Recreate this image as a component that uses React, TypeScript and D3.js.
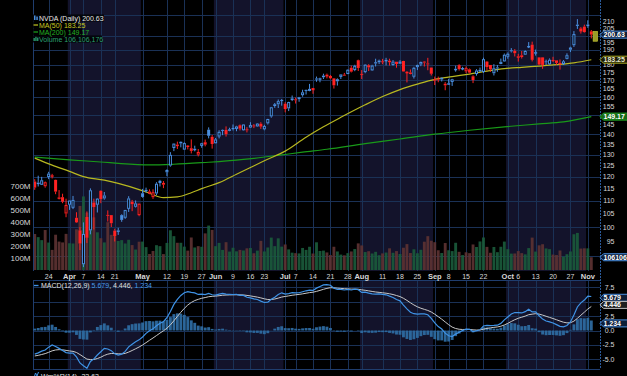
import React from 'react';
import * as d3 from 'd3';

// ---------- calendar ----------
const firstDay = '2025-03-18';
const lastDay = '2025-11-04';
const holidays = ['2025-04-18', '2025-05-26', '2025-06-19', '2025-07-04', '2025-09-01'];

// ---------- daily OHLC (NVDA) ----------
const opens = [
  118.0, 117.3, 116.6, 116.0, 119.9, 120.6, 118.7, 111.4, 111.5, 105.1,
  108.5, 107.3, 103.5, 98.9, 87.5, 103.8, 98.9, 109.4, 108.5, 114.1, 111.0, 104.6, 104.5, 98.8, 98.8, 104.5, 103.5, 106.9, 109.7, 107.7, 104.5,
  113.1, 114.2, 112.9, 111.5, 113.0, 118.3, 117.4, 122.0, 125.0, 133.2, 134.3, 136.2, 132.4, 134.3, 133.1, 132.2, 130.0, 134.2, 136.0, 142.3, 138.7,
  135.5, 138.8, 142.2, 142.2, 142.5, 143.2, 142.7, 144.6, 142.0, 142.5, 143.4, 144.5, 144.0, 145.4, 142.5, 145.6, 149.3, 156.0, 156.0, 158.4,
  156.3, 153.7, 158.4, 158.8, 158.9, 161.2, 164.3, 163.7, 165.4, 171.2, 171.1, 172.0, 173.6, 172.8, 171.3, 169.5, 172.2, 173.6, 174.0, 178.0, 176.5, 182.9,
  174.1, 175.2, 179.6, 176.3, 181.6, 181.6, 182.2, 183.0, 182.6, 179.8, 181.9, 180.6, 182.4, 175.0, 174.8, 172.3, 178.4, 180.1, 182.0, 180.8, 178.1,
  170.0, 171.1, 170.6, 168.0, 167.6, 169.1, 176.6, 179.7, 177.8, 175.7, 177.0, 172.6, 174.0, 175.8, 175.3, 182.0, 179.8, 174.5, 178.2, 180.4, 182.1,
  185.2, 189.6, 189.2, 185.5, 186.2, 186.6, 192.2, 193.5, 188.0, 184.8, 184.8, 182.2, 180.2, 183.1, 182.8, 181.1, 180.4, 183.8, 190.0, 193.1, 208.0, 205.2, 206.5,
  208.1, 203.0,
];
const highs = [
  119.0, 120.5, 120.0, 118.0, 122.2, 121.3, 118.8, 114.4, 112.9, 110.9,
  110.2, 112.0, 105.6, 100.1, 101.8, 105.9, 115.1, 110.9, 111.1, 114.3, 113.6, 106.3, 104.5, 99.5, 99.8, 104.8, 106.5, 111.9, 110.4, 110.2, 109.0,
  114.9, 115.4, 114.7, 114.7, 117.7, 118.7, 118.2, 123.3, 131.2, 135.4, 136.3, 136.4, 135.9, 134.6, 137.4, 134.3, 132.7, 135.7, 137.3, 143.5, 139.6,
  138.1, 142.0, 142.4, 144.0, 143.3, 145.0, 144.3, 145.0, 145.1, 143.6, 146.2, 145.2, 145.7, 146.2, 144.8, 148.0, 154.5, 156.7, 158.7, 159.0,
  157.2, 157.4, 161.0, 159.8, 160.2, 164.4, 164.5, 167.9, 165.5, 172.4, 171.7, 174.2, 174.3, 173.4, 171.4, 171.3, 173.8, 174.7, 177.0, 179.4, 179.9, 183.3,
  176.5, 180.3, 180.3, 179.9, 183.9, 183.3, 183.8, 184.5, 183.9, 183.0, 181.9, 182.9, 182.5, 175.9, 176.9, 178.6, 180.0, 182.0, 182.3, 184.5, 178.2,
  172.4, 172.4, 171.9, 169.0, 171.0, 171.0, 179.3, 180.3, 178.6, 178.8, 177.5, 173.2, 177.1, 178.1, 184.6, 182.4, 179.8, 180.3, 179.8, 184.0, 187.4,
  188.1, 191.1, 190.4, 187.2, 189.1, 189.6, 195.3, 195.6, 190.1, 184.8, 184.9, 183.3, 184.1, 185.2, 182.8, 183.4, 183.0, 187.5, 192.0, 203.2, 212.2, 206.2, 208.0,
  211.3, 204.0,
];
const lows = [
  114.5, 115.9, 116.5, 115.4, 119.0, 119.3, 112.7, 110.6, 109.1, 103.7,
  106.5, 106.8, 101.6, 92.1, 86.6, 94.5, 97.5, 99.2, 105.5, 109.1, 110.5, 102.1, 100.1, 95.0, 97.3, 102.0, 103.1, 105.7, 106.0, 107.4, 104.1,
  111.3, 113.4, 112.7, 110.8, 112.3, 115.9, 115.2, 120.3, 124.5, 131.7, 132.7, 133.5, 132.4, 132.5, 130.6, 131.6, 129.2, 133.3, 134.0, 137.9, 132.9,
  135.4, 137.9, 139.5, 138.8, 141.5, 141.9, 141.5, 141.9, 141.8, 140.9, 143.2, 143.1, 143.8, 142.7, 142.0, 145.0, 148.6, 154.0, 153.9, 155.2,
  151.5, 152.2, 157.8, 156.4, 157.4, 160.3, 161.6, 163.5, 162.0, 169.2, 168.9, 170.9, 171.3, 171.0, 165.1, 166.9, 170.9, 172.9, 173.9, 175.0, 175.8, 175.9,
  170.9, 174.5, 175.9, 176.0, 178.8, 180.4, 180.3, 179.5, 179.4, 179.3, 178.0, 180.6, 175.5, 168.8, 173.8, 171.2, 176.5, 179.0, 178.8, 176.4, 173.1,
  167.2, 168.9, 169.4, 164.1, 167.3, 166.7, 175.5, 176.2, 176.4, 174.5, 174.4, 168.4, 173.0, 175.2, 174.7, 176.2, 175.4, 173.1, 175.4, 180.3, 181.9,
  183.9, 188.1, 185.4, 182.0, 184.0, 186.5, 191.1, 182.1, 186.0, 179.7, 177.3, 179.8, 179.8, 181.7, 179.8, 176.8, 179.8, 183.5, 188.4, 191.9, 204.8, 201.4, 202.1,
  205.6, 197.9,
];
const closes = [
  115.43, 117.52, 118.53, 117.70, 121.41, 120.69, 113.76, 111.43, 109.67, 108.38,
  110.15, 110.42, 101.80, 94.31, 97.64, 96.30, 114.33, 107.57, 110.93, 110.71, 112.20, 104.49, 101.49, 96.91, 98.89, 102.71, 106.43, 111.01, 108.73, 109.02, 108.92,
  111.61, 114.50, 113.82, 113.54, 117.06, 117.37, 116.65, 123.00, 129.93, 135.34, 134.83, 135.40, 135.57, 134.38, 131.80, 132.83, 131.29, 135.50, 134.81, 139.19, 135.13,
  137.38, 141.22, 141.92, 139.99, 141.72, 142.63, 143.96, 142.83, 145.00, 141.97, 144.69, 144.12, 145.48, 143.85, 144.17, 147.90, 154.31, 155.02, 157.75, 157.99,
  153.30, 157.25, 159.34, 158.24, 160.00, 162.88, 164.10, 164.92, 164.07, 170.70, 171.37, 173.00, 172.41, 171.38, 167.03, 170.78, 173.74, 173.50, 176.75, 175.51, 179.27, 177.87,
  173.72, 180.00, 178.26, 179.42, 180.77, 182.70, 182.06, 183.16, 181.59, 182.02, 180.45, 182.01, 175.64, 175.40, 174.98, 177.99, 179.81, 181.77, 181.60, 180.17, 174.18,
  170.78, 170.62, 171.66, 167.02, 168.31, 170.76, 177.33, 177.17, 177.82, 177.75, 174.88, 170.29, 176.24, 176.67, 183.61, 178.43, 176.97, 177.69, 178.19, 181.85, 186.58,
  187.24, 188.89, 187.62, 185.54, 185.04, 189.11, 192.57, 183.16, 188.32, 180.03, 179.83, 181.81, 183.22, 182.64, 181.16, 180.28, 182.16, 186.26, 191.49, 201.03, 207.04, 202.89, 202.49,
  206.88, 200.63,
];
// volume in millions of shares
const volumes = [
  299, 273, 248, 332, 228, 167, 293, 236, 229, 300,
  222, 220, 338, 532, 611, 476, 612, 437, 313, 264, 229, 397, 292, 288, 241, 248, 220, 251, 207, 170, 235,
  236, 190, 133, 158, 206, 198, 132, 225, 330, 281, 226, 226, 194, 161, 270, 187, 198, 193, 304, 369, 333,
  198, 225, 167, 231, 153, 185, 155, 167, 162, 180, 183, 139, 161, 242, 154, 187, 269, 198, 263, 194,
  212, 171, 144, 140, 138, 183, 167, 193, 137, 230, 158, 161, 146, 124, 193, 154, 128, 122, 140, 154, 174, 221,
  204, 149, 156, 137, 151, 123, 138, 145, 180, 143, 157, 133, 185, 215, 141, 172, 139, 168, 235, 281, 243,
  231, 164, 141, 224, 164, 157, 226, 151, 124, 147, 140, 212, 191, 237, 270, 192, 143, 191, 148, 193, 236,
  173, 136, 137, 157, 140, 130, 182, 269, 153, 205, 214, 179, 173, 128, 124, 162, 111, 131, 154, 297, 308, 178, 180,
  180, 106,
];

// ---------- moving averages ----------
const ma50Samples: [string, number][] = [
  ['2025-03-18', 128.4], ['2025-03-25', 125.2], ['2025-04-01', 122.4], ['2025-04-07', 120.1], ['2025-04-15', 118.6],
  ['2025-04-22', 117.2], ['2025-04-30', 114.6], ['2025-05-05', 113.1], ['2025-05-09', 111.3], ['2025-05-15', 111.6],
  ['2025-05-21', 113.3], ['2025-05-27', 115.0], ['2025-06-03', 117.5], ['2025-06-10', 121.1], ['2025-06-16', 124.1],
  ['2025-06-23', 127.2], ['2025-07-01', 131.7], ['2025-07-10', 138.5], ['2025-07-17', 143.8], ['2025-07-24', 148.8],
  ['2025-08-04', 155.7], ['2025-08-11', 160.4], ['2025-08-18', 164.5], ['2025-08-25', 167.8], ['2025-09-02', 170.7],
  ['2025-09-09', 172.4], ['2025-09-16', 174.0], ['2025-09-23', 175.8], ['2025-09-30', 177.4], ['2025-10-07', 178.3],
  ['2025-10-14', 179.1], ['2025-10-21', 180.0], ['2025-10-28', 181.2], ['2025-11-04', 183.25],
];
const ma200Samples: [string, number][] = [
  ['2025-03-18', 128.9], ['2025-04-01', 127.6], ['2025-04-15', 126.5], ['2025-04-22', 126.0], ['2025-05-05', 125.3],
  ['2025-05-14', 125.6], ['2025-05-29', 126.5], ['2025-06-03', 126.8], ['2025-06-12', 127.8], ['2025-06-27', 129.7],
  ['2025-07-09', 131.2], ['2025-07-18', 132.6], ['2025-08-04', 135.3], ['2025-08-18', 137.6], ['2025-09-02', 140.0],
  ['2025-09-16', 142.0], ['2025-09-30', 143.8], ['2025-10-14', 145.3], ['2025-10-23', 146.4], ['2025-11-04', 149.17],
];

// MACD(12,26,9) EMA states on the session before the first bar
const ema12Seed = 119.2;
const ema26Seed = 123.3;
const signalSeed = -4.5;

// ---------- axis ticks / labels ----------
const dateTicks: [string, string, boolean][] = [
  ['2025-03-24', '24', false], ['2025-04-01', 'Apr', true], ['2025-04-07', '7', false], ['2025-04-14', '14', false],
  ['2025-04-21', '21', false], ['2025-05-01', 'May', true], ['2025-05-12', '12', false], ['2025-05-19', '19', false],
  ['2025-05-27', '27', false], ['2025-06-02', 'Jun', true], ['2025-06-09', '9', false], ['2025-06-16', '16', false],
  ['2025-06-23', '23', false], ['2025-07-01', 'Jul', true], ['2025-07-07', '7', false], ['2025-07-14', '14', false],
  ['2025-07-21', '21', false], ['2025-07-28', '28', false], ['2025-08-01', 'Aug', true], ['2025-08-11', '11', false],
  ['2025-08-18', '18', false], ['2025-08-25', '25', false], ['2025-09-02', 'Sep', true], ['2025-09-08', '8', false],
  ['2025-09-15', '15', false], ['2025-09-22', '22', false], ['2025-10-01', 'Oct', true], ['2025-10-06', '6', false],
  ['2025-10-13', '13', false], ['2025-10-20', '20', false], ['2025-10-27', '27', false], ['2025-11-03', 'Nov', true],
];
const priceTickLabels = [95, 100, 105, 110, 115, 120, 125, 130, 135, 140, 145, 150, 155, 160, 165, 170, 175, 180, 190, 195, 205, 210];
const priceGrid = [90, 100, 110, 120, 130, 140, 150, 160, 170, 180, 190, 200, 215];
const volumeTicks = [100, 200, 300, 400, 500, 600, 700];
const macdTickLabels = [7.5, 2.5, 0, -2.5, -5];
const macdGrid = [7.5, 5, 2.5, 0, -2.5, -5];

const legendText = {
  ticker: 'NVDA (Daily) 200.63',
  ma50: 'MA(50) 183.25',
  ma200: 'MA(200) 149.17',
  volume: 'Volume 106,106,176',
  macdName: 'MACD(12,26,9)',
  macdVals: ['5.679', '4.446', '1.234'],
  wmr: 'Wm%R(14) -22.63',
};
const lastVolumeText = '106106176';

// ---------- styling ----------
const FONT = "'Liberation Sans', Arial, sans-serif";
const C = {
  bg: '#000000',
  shade: '#13132b',
  grid: '#1a3156',
  frame: '#1f3d6e',
  up: '#4a8fe0',
  down: '#ff2222',
  volUp: '#1a5a3b',
  volDown: '#5c3232',
  ma50: '#b8b820',
  ma200: '#199a19',
  text: '#d8d8d8',
  macd: '#3f93e6',
  signal: '#c8c8c8',
  hist: '#2d6aa0',
};

function tradingDays(): string[] {
  const fmt = d3.utcFormat('%Y-%m-%d');
  const start = new Date(firstDay + 'T00:00:00Z');
  const end = d3.utcDay.offset(new Date(lastDay + 'T00:00:00Z'), 1);
  return d3.utcDay
    .range(start, end)
    .filter((d) => d.getUTCDay() !== 0 && d.getUTCDay() !== 6)
    .map(fmt)
    .filter((s) => !holidays.includes(s));
}

function Box({ y, text, stroke, fill, color }: { y: number; text: string; stroke: string; fill: string; color: string }) {
  const h = 7;
  const pts = [
    [600, y], [603.5, y - h / 2], [630, y - h / 2], [630, y + h / 2], [603.5, y + h / 2],
  ].map((p) => p.join(',')).join(' ');
  return (
    <g>
      <polygon points={pts} fill={fill} stroke={stroke} strokeWidth={1} />
      <text x={603.5} y={y + 2.5} fontSize={7} fontWeight="bold" fill={color} fontFamily={FONT}>{text}</text>
    </g>
  );
}

export default function App() {
  const days = tradingDays().slice(0, closes.length);
  const n = days.length;
  const idxOf = new Map(days.map((d, i) => [d, i] as [string, number]));
  const L = 33, R = 600;
  const mainB = 271, macdT = 280, macdB = 369;

  const x = d3.scaleLinear().domain([-0.5, n + 1.5]).range([L, R]);
  const step = x(1) - x(0);
  const yP = d3.scaleLog().domain([100, 200]).range([227.3, 35.5]);
  const yV = d3.scaleLinear().domain([0, 700]).range([270, 185.7]);
  const yM = d3.scaleLinear().domain([-5, 7.5]).range([359.3, 287.3]);

  // MACD
  let e12 = ema12Seed, e26 = ema26Seed, sig = signalSeed;
  const macd = closes.map((c) => {
    e12 += (c - e12) * (2 / 13);
    e26 += (c - e26) * (2 / 27);
    const m = e12 - e26;
    sig += (m - sig) * (2 / 10);
    return { m, s: sig, h: m - sig };
  });

  // month shading bands
  const months = d3.groups(days.map((d, i) => ({ d, i })), (o) => o.d.slice(0, 7));
  const bands = months.map(([key, arr], k) => {
    const first = arr[0].i, last = arr[arr.length - 1].i;
    const x0 = k === 0 ? L : x(first) - step / 2;
    const x1 = k === months.length - 1 ? R : x(last) + step / 2;
    const shaded = +key.slice(5, 7) % 2 === 0;
    return { key, x0, x1, shaded };
  });

  const tickX = dateTicks.map(([d, t, b]) => ({ x: x(idxOf.get(d)!), t, b }));

  const maLine = d3.line<[string, number]>()
    .x((d) => x(idxOf.get(d[0])!))
    .y((d) => yP(d[1]))
    .curve(d3.curveMonotoneX);

  const macdLine = d3.line<number>().x((_, i) => x(i)).y((v) => yM(v));

  const bodyW = 3;
  const last = n - 1;

  return (
    <svg width={627} height={376} style={{ position: 'absolute', left: 0, top: 0, background: '#000' }}>
      <defs>
        <clipPath id="mainClip"><rect x={L} y={0} width={R - L} height={mainB} /></clipPath>
        <clipPath id="macdClip"><rect x={L} y={macdT} width={R - L} height={macdB - macdT} /></clipPath>
      </defs>
      <rect width={627} height={376} fill={C.bg} />

      {/* shading */}
      {bands.filter((b) => b.shaded).map((b) => (
        <g key={b.key}>
          <rect x={b.x0} y={0} width={b.x1 - b.x0} height={mainB} fill={C.shade} />
          <rect x={b.x0} y={macdT} width={b.x1 - b.x0} height={macdB - macdT} fill={C.shade} />
        </g>
      ))}

      {/* grid */}
      <g stroke={C.grid} strokeWidth={1}>
        {priceGrid.map((p) => (
          <line key={'pg' + p} x1={L} x2={R} y1={Math.round(yP(p)) + 0.5} y2={Math.round(yP(p)) + 0.5} />
        ))}
        {macdGrid.map((v) => (
          <line key={'mg' + v} x1={L} x2={R} y1={Math.round(yM(v)) + 0.5} y2={Math.round(yM(v)) + 0.5} />
        ))}
        {tickX.map((t, i) => (
          <g key={'vg' + i}>
            <line x1={Math.round(t.x) + 0.5} x2={Math.round(t.x) + 0.5} y1={0} y2={mainB} />
            <line x1={Math.round(t.x) + 0.5} x2={Math.round(t.x) + 0.5} y1={macdT} y2={macdB} />
          </g>
        ))}
      </g>

      {/* volume */}
      <g clipPath="url(#mainClip)">
        {volumes.map((v, i) => {
          const up = i === 0 ? closes[i] >= opens[i] : closes[i] >= closes[i - 1];
          return (
            <rect key={'v' + i} x={x(i) - step / 2 + 0.3} y={yV(v)} width={step - 0.6} height={yV(0) - yV(v)}
              fill={up ? C.volUp : C.volDown} opacity={0.92} />
          );
        })}
      </g>

      {/* moving averages */}
      <g clipPath="url(#mainClip)" fill="none">
        <path d={maLine(ma200Samples) || ''} stroke={C.ma200} strokeWidth={1.2} />
        <path d={maLine(ma50Samples) || ''} stroke={C.ma50} strokeWidth={1.2} />
      </g>

      {/* candles */}
      <g clipPath="url(#mainClip)">
        {closes.map((c, i) => {
          const o = opens[i], h = highs[i], l = lows[i];
          const prev = i === 0 ? o : closes[i - 1];
          const col = c >= prev ? C.up : C.down;
          const hollow = c >= o;
          const cx = x(i);
          const top = yP(Math.max(o, c)), bot = yP(Math.min(o, c));
          const bh = Math.max(1, bot - top);
          return (
            <g key={'c' + i}>
              <line x1={cx} x2={cx} y1={yP(h)} y2={top} stroke={col} strokeWidth={1} />
              <line x1={cx} x2={cx} y1={top + bh} y2={yP(l)} stroke={col} strokeWidth={1} />
              {hollow ? (
                <rect x={cx - bodyW / 2 + 0.5} y={top + 0.5} width={bodyW - 1} height={Math.max(0.5, bh - 1)} fill="#000" stroke={col} strokeWidth={1} />
              ) : (
                <rect x={cx - bodyW / 2} y={top} width={bodyW} height={bh} fill={col} />
              )}
            </g>
          );
        })}
        <rect x={x(last) + 1.8} y={yP(highs[last] - 1)} width={4.5} height={yP(lows[last] - 2) - yP(highs[last] - 1)}
          fill="#9a9a28" stroke="#c8c830" strokeWidth={0.6} />
      </g>

      {/* frame */}
      <line x1={L + 0.5} x2={L + 0.5} y1={0} y2={mainB} stroke={C.frame} />
      <line x1={L + 0.5} x2={L + 0.5} y1={macdT} y2={macdB} stroke={C.frame} />
      <line x1={R + 0.5} x2={R + 0.5} y1={0} y2={macdB} stroke="#2a5a9a" strokeDasharray="2,1" />
      <line x1={L} x2={R} y1={macdT + 0.5} y2={macdT + 0.5} stroke={C.frame} />
      <line x1={L} x2={R} y1={macdB + 0.5} y2={macdB + 0.5} stroke={C.frame} />

      {/* legend */}
      <g fontFamily={FONT} fontSize={7}>
        <rect x={32} y={14.5} width={72} height={7} fill="#000" opacity={0.85} />
        <rect x={32} y={21.5} width={46} height={7} fill="#000" opacity={0.85} />
        <rect x={32} y={28.5} width={50} height={7} fill="#000" opacity={0.85} />
        <rect x={32} y={35.5} width={70} height={7} fill="#000" opacity={0.85} />
        <rect x={34} y={15.5} width={1.5} height={4.5} fill={C.up} />
        <rect x={36.3} y={16.5} width={1.5} height={3.5} fill={C.up} />
        <text x={39} y={20.6} fill="#e8e8e8">{legendText.ticker}</text>
        <line x1={33.5} x2={38} y1={25} y2={25} stroke={C.ma50} strokeWidth={1.3} />
        <text x={39} y={27.6} fill="#c8c820">{legendText.ma50}</text>
        <line x1={33.5} x2={38} y1={32} y2={32} stroke={C.ma200} strokeWidth={1.3} />
        <text x={39} y={34.6} fill="#22b022">{legendText.ma200}</text>
        <rect x={33.5} y={38} width={1.3} height={3} fill="#2aa070" />
        <rect x={35.3} y={36.8} width={1.3} height={4.2} fill="#2aa070" />
        <rect x={37.1} y={37.6} width={1.3} height={3.4} fill="#2aa070" />
        <text x={39} y={41.6} fill="#2aa070">{legendText.volume}</text>
      </g>

      {/* price axis labels */}
      <g fontFamily={FONT} fontSize={7} fill={C.text} textAnchor="end">
        {priceTickLabels.map((p) => (
          <text key={'pl' + p} x={614.5} y={yP(p) + 2.5}>{p}</text>
        ))}
      </g>
      {/* volume axis labels */}
      <g fontFamily={FONT} fontSize={8} fill={C.text} textAnchor="end">
        {volumeTicks.map((v) => (
          <text key={'vl' + v} x={30.5} y={yV(v) + 3}>{v + 'M'}</text>
        ))}
      </g>

      {/* value boxes */}
      <Box y={yP(closes[last])} text={closes[last].toFixed(2)} stroke="#4a8fe0" fill="#0e1d36" color="#ffffff" />
      <Box y={yP(ma50Samples[ma50Samples.length - 1][1])} text={ma50Samples[ma50Samples.length - 1][1].toFixed(2)} stroke="#a8a820" fill="#1a1a08" color="#e8e8c8" />
      <Box y={yP(ma200Samples[ma200Samples.length - 1][1])} text={ma200Samples[ma200Samples.length - 1][1].toFixed(2)} stroke="#22a022" fill="#176a17" color="#ffffff" />
      <Box y={yV(volumes[last])} text={lastVolumeText} stroke="#4a8fe0" fill="#0e1d36" color="#ffffff" />

      {/* date labels */}
      <g fontFamily={FONT} fontSize={7} fill={C.text} textAnchor="middle">
        {tickX.map((t, i) => (
          <text key={'dl' + i} x={t.x} y={278.5} fontWeight={t.b ? 'bold' : 'normal'} fontSize={t.b ? 7.5 : 7}>{t.t}</text>
        ))}
      </g>

      {/* MACD */}
      <g clipPath="url(#macdClip)">
        {macd.map((d, i) => (
          <rect key={'h' + i} x={x(i) - step / 2 + 0.3} width={step - 0.6}
            y={Math.min(yM(0), yM(d.h))} height={Math.abs(yM(d.h) - yM(0))} fill={C.hist} opacity={0.95} />
        ))}
        <path d={macdLine(macd.map((d) => d.s)) || ''} fill="none" stroke={C.signal} strokeWidth={1} />
        <path d={macdLine(macd.map((d) => d.m)) || ''} fill="none" stroke={C.macd} strokeWidth={1.2} />
      </g>
      <g fontFamily={FONT} fontSize={7}>
        <line x1={34} x2={38.5} y1={285.5} y2={285.5} stroke={C.macd} strokeWidth={1.3} />
        <text x={41} y={288}>
          <tspan fill="#e0e0e0">{legendText.macdName} </tspan>
          <tspan fill="#4a9be8">{legendText.macdVals[0]}</tspan>
          <tspan fill="#e0e0e0">, {legendText.macdVals[1]}, </tspan>
          <tspan fill="#4a9be8">{legendText.macdVals[2]}</tspan>
        </text>
      </g>
      <g fontFamily={FONT} fontSize={7} fill={C.text} textAnchor="end">
        {macdTickLabels.map((v) => (
          <text key={'ml' + v} x={614.5} y={yM(v) + 2.5}>{v.toFixed(1)}</text>
        ))}
      </g>
      <Box y={yM(+legendText.macdVals[0])} text={legendText.macdVals[0]} stroke="#4a8fe0" fill="#0e1d36" color="#ffffff" />
      <Box y={yM(+legendText.macdVals[1])} text={legendText.macdVals[1]} stroke="#c0c0c0" fill="#202020" color="#ffffff" />
      <Box y={yM(+legendText.macdVals[2])} text={legendText.macdVals[2]} stroke="#4a8fe0" fill="#0e1d36" color="#ffffff" />

      {/* Williams %R strip */}
      <g fontFamily={FONT} fontSize={7}>
        <path d="M34,378 L35.5,373 L37,376 L38.5,372" fill="none" stroke={C.macd} strokeWidth={1} />
        <text x={41} y={378.5} fill="#e0e0e0">{legendText.wmr}</text>
      </g>
    </svg>
  );
}
